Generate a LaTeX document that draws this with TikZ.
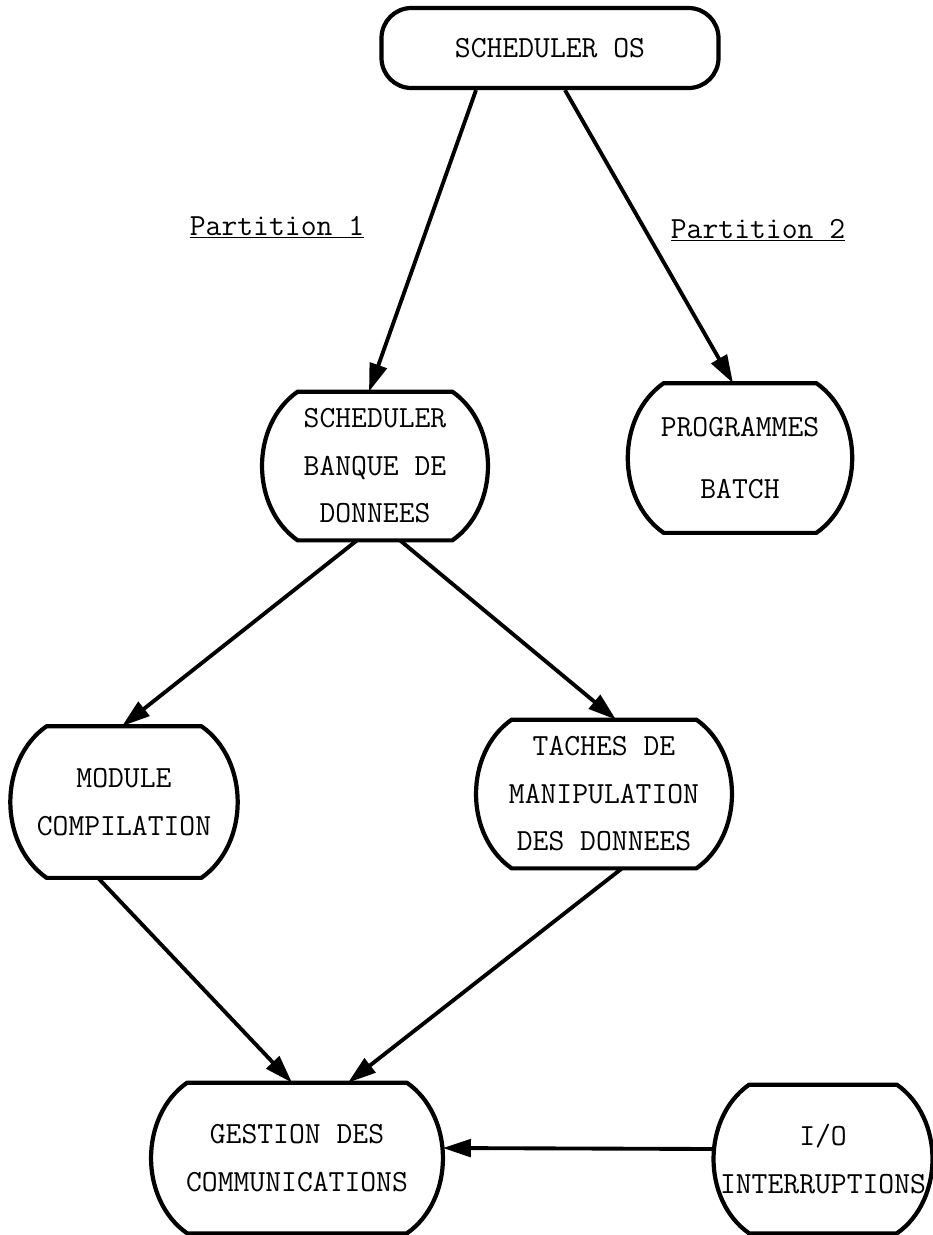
\documentclass[tikz,border=0pt]{standalone}
\usepackage{tikz}
\usetikzlibrary{arrows.meta,positioning}
\tikzstyle{barrel} = [rectangle, inner sep=0pt, align=center, font=\fontsize{17.5}{27}\selectfont\ttfamily]
\tikzstyle{outline} = [line width=2.4pt, line join=round, line cap=round]
\tikzstyle{arrow} = [line width=2.2pt, -{Triangle[length=16pt,width=10pt]}]
\tikzstyle{parttext} = [inner sep=0pt, anchor=base, font=\fontsize{17.5}{27}\selectfont\ttfamily]

\begin{document}
\begin{tikzpicture}
\useasboundingbox (0,0) rectangle (18.64,-24.7);
\node (os) [barrel, draw, line width=2.4pt, rounded corners=0.6cm, minimum width=6.74cm, minimum height=1.6cm] at (11,-0.96) {SCHEDULER OS};
\node (banque) [barrel, minimum width=4.52cm, minimum height=2.96cm] at (7.5,-9.32) {SCHEDULER\\BANQUE DE\\DONNEES};
\node (batch) [barrel, minimum width=4.48cm, minimum height=2.98cm] at (14.8,-9.16) {PROGRAMMES\\[0.3cm]BATCH};
\node (module) [barrel, minimum width=4.52cm, minimum height=3.02cm] at (2.48,-16.04) {MODULE\\COMPILATION};
\node (taches) [barrel, minimum width=5.12cm, minimum height=2.96cm] at (12.08,-15.88) {TACHES DE\\MANIPULATION\\DES DONNEES};
\node (gestion) [barrel, minimum width=5.82cm, minimum height=3cm] at (5.94,-23.16) {GESTION DES\\COMMUNICATIONS};
\node (io) [barrel, minimum width=4.38cm, minimum height=2.96cm] at (16.46,-23.18) {I/O\\INTERRUPTIONS};
\node (part1) [parttext] at (5.54,-4.7) {\underline{Partition 1}};
\node (part2) [parttext] at (15.16,-4.76) {\underline{Partition 2}};

% barrel outlines
\foreach \n in {banque,batch,module,taches,gestion,io}
  \draw[outline] ([xshift=0.72cm]\n.north west) -- ([xshift=-0.72cm]\n.north east)
    to[bend left=55] ([xshift=-0.72cm]\n.south east) -- ([xshift=0.72cm]\n.south west)
    to[bend left=55] ([xshift=0.72cm]\n.north west) -- cycle;

% arrows
\draw[arrow] ([xshift=-1.48cm]os.south) -- ([xshift=-0.12cm]banque.north);
\draw[arrow] ([xshift=0.3cm]os.south) -- ([xshift=-0.14cm]batch.north);
\draw[arrow] ([xshift=-0.36cm]banque.south) -- ([xshift=-0.04cm]module.north);
\draw[arrow] ([xshift=0.5cm]banque.south) -- ([xshift=0.24cm]taches.north);
\draw[arrow] ([xshift=-0.52cm]module.south) -- ([xshift=-0.1cm]gestion.north);
\draw[arrow] ([xshift=0.36cm]taches.south) -- ([xshift=1.02cm]gestion.north);
\draw[arrow] ([yshift=0.2cm]io.west) -- ([yshift=0.2cm]gestion.east);
\end{tikzpicture}
\end{document}
